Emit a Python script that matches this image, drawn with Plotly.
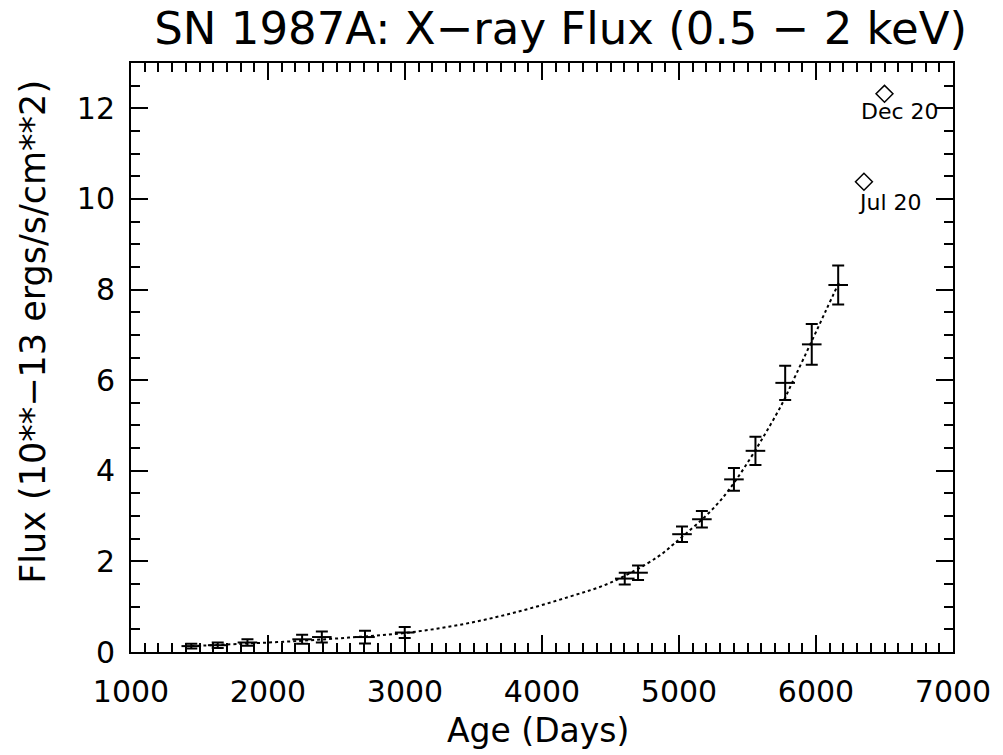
import plotly.graph_objects as go

# Observed fluxes (days since explosion, flux in 1e-13 erg/s/cm^2, 1-sigma error)
age_days = [1440, 1633, 1850, 2249, 2393, 2708, 2998,
            4604, 4701, 5022, 5167, 5401, 5558, 5775, 5969, 6162]
flux = [0.13, 0.15, 0.21, 0.28, 0.33, 0.33, 0.43,
        1.62, 1.75, 2.60, 2.93, 3.81, 4.44, 5.94, 6.79, 8.10]
flux_err = [0.05, 0.06, 0.07, 0.10, 0.12, 0.14, 0.12,
            0.13, 0.16, 0.17, 0.18, 0.25, 0.31, 0.38, 0.45, 0.43]

# Dotted model curve
curve_days = [1440, 1800, 2200, 2600, 3000, 3400, 3800, 4200, 4500,
              4840, 4960, 5310, 5710, 5855, 6070, 6170]
curve_flux = [0.13, 0.18, 0.24, 0.32, 0.42, 0.60, 0.87, 1.22, 1.53,
              2.09, 2.38, 3.37, 5.24, 6.13, 7.52, 8.17]

# Predictions (open diamonds)
pred_days = [6500, 6350]
pred_flux = [12.32, 10.38]
pred_labels = ["Dec 20", "Jul 20"]
label_days = [6312, 6290]
label_flux = [11.94, 9.92]

x_ticks = [1000, 2000, 3000, 4000, 5000, 6000, 7000]
y_ticks = [0, 2, 4, 6, 8, 10, 12]

FONT = "DejaVu Sans"

fig = go.Figure()
fig.add_trace(go.Scatter(
    x=curve_days, y=curve_flux, mode="lines", line_shape="spline",
    line=dict(color="black", width=2, dash="dot"), hoverinfo="skip",
    showlegend=False))
fig.add_trace(go.Scatter(
    x=age_days, y=flux, mode="markers",
    marker=dict(symbol="line-ew", size=14, line=dict(color="black", width=2)),
    error_y=dict(type="data", array=flux_err, visible=True,
                 color="black", thickness=2, width=6),
    showlegend=False))
fig.add_trace(go.Scatter(
    x=pred_days, y=pred_flux, mode="markers",
    marker=dict(symbol="diamond-open", size=13, color="black",
                line=dict(color="black", width=1.5)),
    showlegend=False))

for d, f, t in zip(label_days, label_flux, pred_labels):
    fig.add_annotation(x=d, y=f, text=t, showarrow=False, xanchor="left",
                       yanchor="middle",
                       font=dict(family=FONT, size=22, color="black"))

fig.add_annotation(xref="paper", yref="paper", x=0.495, y=-0.134,
                   text="Age (Days)", showarrow=False, xanchor="center",
                   yanchor="middle", font=dict(family=FONT, size=33, color="black"))
fig.add_annotation(xref="paper", yref="paper", x=-0.1196, y=0.543,
                   text="Flux (10**−13 ergs/s/cm**2)", showarrow=False,
                   textangle=-90, xanchor="center", yanchor="middle",
                   font=dict(family=FONT, size=35, color="black"))

axis_common = dict(
    showgrid=False, zeroline=False, showline=True, linecolor="black",
    linewidth=2, mirror="ticks", ticks="inside", tickcolor="black",
    tickwidth=2, ticklen=17,
    tickfont=dict(family=FONT, size=30, color="black"),
)

fig.update_xaxes(range=[1000, 7000], tickvals=x_ticks,
                 ticktext=[str(v) for v in x_ticks],
                 minor=dict(dtick=100, tick0=1000, ticks="inside", ticklen=9,
                            tickcolor="black", tickwidth=2, showgrid=False),
                 ticklabelstandoff=12, **axis_common)
fig.update_yaxes(range=[0, 13], tickvals=y_ticks,
                 ticktext=[str(v) for v in y_ticks],
                 minor=dict(dtick=0.5, tick0=0, ticks="inside", ticklen=9,
                            tickcolor="black", tickwidth=2, showgrid=False),
                 ticklabelstandoff=8, **axis_common)

fig.update_layout(
    width=1003, height=755,
    margin=dict(l=131, r=44, t=63, b=103),
    paper_bgcolor="white", plot_bgcolor="white",
    title=dict(text="SN 1987A: X−ray Flux (0.5 − 2 keV)", x=0.559, y=0.962,
               xanchor="center", yanchor="middle",
               font=dict(family=FONT, size=45, color="black")),
)

fig.write_html("out.html")
